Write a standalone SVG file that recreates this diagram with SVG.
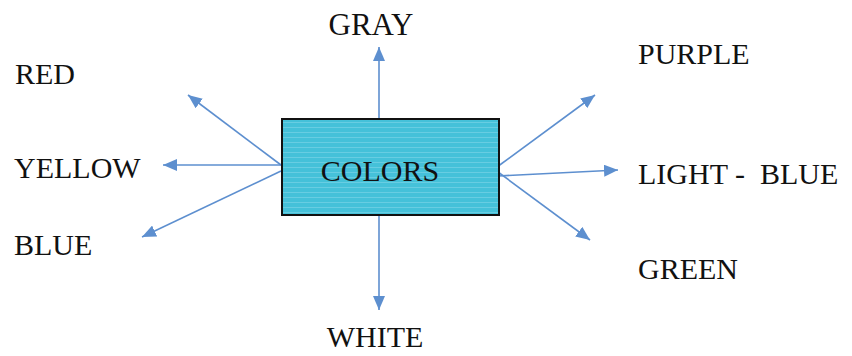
<svg xmlns="http://www.w3.org/2000/svg" width="852" height="356" viewBox="0 0 852 356">
  <style>
    .lbl { font-family: "Liberation Serif", "Times New Roman", serif; font-size: 30px; fill: #111; white-space: pre; }
    .conn { stroke: #5d8fcf; stroke-width: 1.6; fill: none; marker-end: url(#ah); }
  </style>
  <defs>
    <marker id="ah" markerUnits="userSpaceOnUse" markerWidth="14" markerHeight="12" viewBox="0 0 14 12" refX="14" refY="6" orient="auto">
      <path d="M0,0 L14,6 L0,12 Z" fill="#5d8fcf"/>
    </marker>
    <pattern id="stripes" patternUnits="userSpaceOnUse" width="8" height="5">
      <rect width="8" height="5" fill="#45c1d9"/>
      <rect y="2" width="8" height="1" fill="#68cde2"/>
    </pattern>
  </defs>
  <rect width="852" height="356" fill="#ffffff"/>
  <g id="connectors">
    <line class="conn" x1="379" y1="119" x2="379" y2="47"/>
    <line class="conn" x1="379" y1="215" x2="379" y2="310"/>
    <line class="conn" x1="281" y1="165" x2="188" y2="95"/>
    <line class="conn" x1="281" y1="165" x2="163" y2="165"/>
    <line class="conn" x1="281" y1="171" x2="142" y2="237"/>
    <line class="conn" x1="497" y1="167" x2="595" y2="95"/>
    <line class="conn" x1="498" y1="176" x2="618" y2="170"/>
    <line class="conn" x1="498" y1="172" x2="590" y2="240"/>
  </g>
  <g id="colors">
    <rect x="282" y="119" width="217" height="96" fill="url(#stripes)" stroke="#111" stroke-width="2"/>
    <text class="lbl" x="380" y="181" text-anchor="middle" font-size="31">COLORS</text>
  </g>
  <g id="gray"><text class="lbl" x="371" y="35" text-anchor="middle" style="font-size:31px">GRAY</text></g>
  <g id="white"><text class="lbl" x="375" y="347" text-anchor="middle">WHITE</text></g>
  <g id="red"><text class="lbl" x="15" y="84">RED</text></g>
  <g id="yellow"><text class="lbl" x="14" y="178">YELLOW</text></g>
  <g id="blue"><text class="lbl" x="14" y="255">BLUE</text></g>
  <g id="purple"><text class="lbl" x="638" y="64">PURPLE</text></g>
  <g id="light-blue"><text class="lbl" x="638" y="184">LIGHT -  BLUE</text></g>
  <g id="green"><text class="lbl" x="638" y="279">GREEN</text></g>
</svg>
